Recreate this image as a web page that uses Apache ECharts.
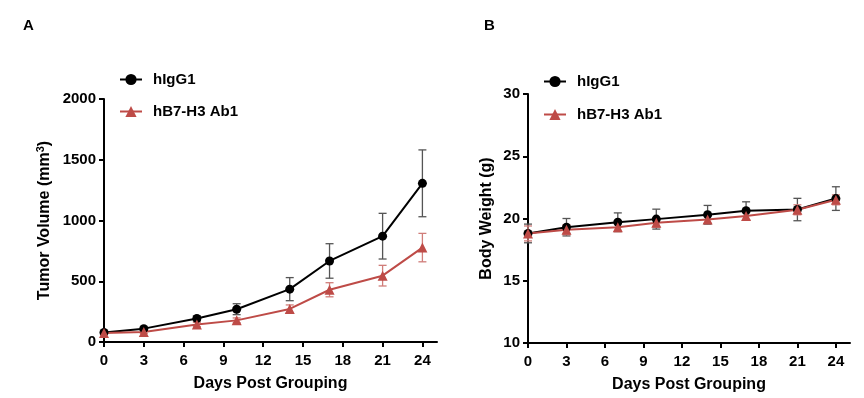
<!DOCTYPE html>
<html>
<head>
<meta charset="utf-8">
<script src="https://cdn.jsdelivr.net/npm/echarts@6/dist/echarts.min.js"></script>
<style>
html,body{margin:0;padding:0;background:#fff;}
#c{width:864px;height:398px;}
</style>
</head>
<body>
<div id="c"></div>
<script>
// ---- data ----
const days = [0, 3, 7, 10, 14, 17, 21, 24];
const xTicks = [0, 3, 6, 9, 12, 15, 18, 21, 24];
const seriesNames = ['hIgG1', 'hB7-H3 Ab1'];

const volIgG1    = [78, 110, 193, 270, 435, 667, 871, 1306];
const volIgG1Err = [12, 14, 20, 45, 95, 142, 188, 275];
const volAb1     = [75, 83, 144, 178, 272, 430, 546, 777];
const volAb1Err  = [10, 12, 18, 20, 33, 58, 85, 117];

const bwIgG1     = [18.8, 19.3, 19.7, 19.95, 20.3, 20.62, 20.72, 21.6];
const bwIgG1Err  = [0.75, 0.7, 0.75, 0.8, 0.75, 0.72, 0.9, 0.95];
const bwAb1      = [18.8, 19.1, 19.3, 19.65, 19.92, 20.2, 20.7, 21.5];
const bwAb1Err   = [0.6, 0.4, 0.35, 0.35, 0.3, 0.3, 0.4, 0.4];

const volTicks = [0, 500, 1000, 1500, 2000];
const bwTicks = [10, 15, 20, 25, 30];

// ---- styles ----
const BLACK = '#000000';
const RED = '#be4b47';
const FONT = '"Liberation Sans", Arial, sans-serif';

function pairs(xs, ys) { return xs.map((x, i) => [x, ys[i]]); }
function errData(xs, ys, es) { return xs.map((x, i) => [x, ys[i] - es[i], ys[i] + es[i]]); }

function errSeries(idx, data, color) {
  return {
    type: 'custom', xAxisIndex: idx, yAxisIndex: idx, z: 1, silent: true,
    data: data,
    renderItem: function (params, api) {
      const x = api.value(0);
      const lo = api.coord([x, api.value(1)]);
      const hi = api.coord([x, api.value(2)]);
      const w = 4;
      const st = { stroke: color, lineWidth: 1.3 };
      return {
        type: 'group',
        children: [
          { type: 'line', shape: { x1: lo[0], y1: lo[1], x2: hi[0], y2: hi[1] }, style: st },
          { type: 'line', shape: { x1: lo[0] - w, y1: lo[1], x2: lo[0] + w, y2: lo[1] }, style: st },
          { type: 'line', shape: { x1: hi[0] - w, y1: hi[1], x2: hi[0] + w, y2: hi[1] }, style: st }
        ]
      };
    }
  };
}

function lineSeries(idx, name, data, color, symbol, size) {
  return {
    type: 'line', name: name, xAxisIndex: idx, yAxisIndex: idx, z: 3,
    data: data, symbol: symbol, symbolSize: size, showSymbol: true,
    lineStyle: { color: color, width: 2 },
    itemStyle: { color: color, borderWidth: 0 },
    emphasis: { disabled: true },
    animation: false
  };
}

const axisLineStyle = { show: true, lineStyle: { color: '#000', width: 2 } };
const tickLabel = { color: '#000', fontFamily: FONT, fontWeight: 'bold', fontSize: 15 };
const nameStyle = { color: '#000', fontFamily: FONT, fontWeight: 'bold', fontSize: 16 };

function xAxisDef(idx) {
  return {
    type: 'value', gridIndex: idx, min: 0, max: 25.1,
    axisLine: axisLineStyle,
    axisTick: { show: true, length: 5, lineStyle: { color: '#000', width: 2 }, customValues: xTicks },
    axisLabel: Object.assign({ margin: 11, customValues: xTicks, formatter: v => String(v) }, tickLabel),
    splitLine: { show: false },
    name: 'Days Post Grouping', nameLocation: 'middle', nameGap: 34,
    nameTextStyle: nameStyle
  };
}

function yAxisDef(idx, mn, mx, step, name, gap, extraStyle) {
  return {
    type: 'value', gridIndex: idx, min: mn, max: mx, interval: step,
    axisLine: axisLineStyle,
    axisTick: { show: true, length: 5, lineStyle: { color: '#000', width: 2 } },
    axisLabel: Object.assign({ margin: 8, formatter: v => String(v) }, tickLabel),
    splitLine: { show: false },
    name: name, nameLocation: 'middle', nameGap: gap,
    nameTextStyle: Object.assign({}, nameStyle, extraStyle || {})
  };
}

const chart = echarts.init(document.getElementById('c'), null, { renderer: 'canvas' });
chart.setOption({
  animation: false,
  backgroundColor: '#fff',
  title: [
    { text: 'A', left: 18, top: 13, textStyle: { fontFamily: FONT, fontWeight: 'bold', fontSize: 15, color: '#000' } },
    { text: 'B', left: 479, top: 13, textStyle: { fontFamily: FONT, fontWeight: 'bold', fontSize: 15, color: '#000' } }
  ],
  legend: [
    {
      data: [{ name: seriesNames[0] }, { name: seriesNames[1] }],
      orient: 'vertical', left: 114, top: 67, itemWidth: 22, itemHeight: 14, itemGap: 17,
      textStyle: { color: '#000', fontFamily: FONT, fontWeight: 'bold', fontSize: 15, padding: [0, 0, 0, 6] },
      selectedMode: false
    },
    {
      data: [{ name: seriesNames[0] }, { name: seriesNames[1] }],
      orient: 'vertical', left: 538, top: 69, itemWidth: 22, itemHeight: 14, itemGap: 18,
      textStyle: { color: '#000', fontFamily: FONT, fontWeight: 'bold', fontSize: 15, padding: [0, 0, 0, 6] },
      selectedMode: false
    }
  ],
  grid: [
    { left: 104, top: 99, width: 333, height: 243 },
    { left: 528, top: 94, width: 322, height: 249 }
  ],
  xAxis: [xAxisDef(0), xAxisDef(1)],
  yAxis: [
    yAxisDef(0, volTicks[0], volTicks[volTicks.length - 1], volTicks[1] - volTicks[0],
      'Tumor Volume (mm{sup|3})', 50,
      { rich: { sup: { fontFamily: FONT, fontWeight: 'bold', fontSize: 11, color: '#000', verticalAlign: 'top', padding: [0, 0, 8, 0] } } }),
    yAxisDef(1, bwTicks[0], bwTicks[bwTicks.length - 1], bwTicks[1] - bwTicks[0],
      'Body Weight (g)', 33)
  ],
  series: [
    errSeries(0, errData(days, volIgG1, volIgG1Err), '#555555'),
    errSeries(0, errData(days, volAb1, volAb1Err), '#d07d79'),
    lineSeries(0, seriesNames[0], pairs(days, volIgG1), BLACK, 'circle', 9),
    lineSeries(0, seriesNames[1], pairs(days, volAb1), RED, 'triangle', 10),
    errSeries(1, errData(days, bwIgG1, bwIgG1Err), '#555555'),
    errSeries(1, errData(days, bwAb1, bwAb1Err), '#d07d79'),
    lineSeries(1, seriesNames[0], pairs(days, bwIgG1), BLACK, 'circle', 9),
    lineSeries(1, seriesNames[1], pairs(days, bwAb1), RED, 'triangle', 10)
  ]
});
</script>
</body>
</html>
